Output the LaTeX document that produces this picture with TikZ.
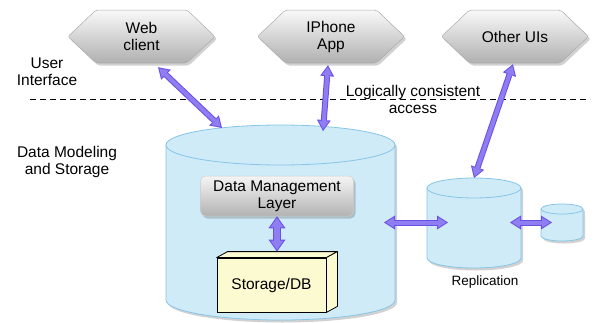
\documentclass[tikz,border=0pt]{standalone}
\usepackage{fontspec}
\setmainfont{Liberation Sans}
\usetikzlibrary{arrows.meta,shadows,calc}
\definecolor{cylfill}{HTML}{CFEBF8}
\definecolor{cylline}{HTML}{86C5E8}
\definecolor{arrdark}{HTML}{6A4FE6}
\definecolor{arrlight}{HTML}{8F7DF2}
\definecolor{dbfill}{HTML}{FCFAD0}
\tikzset{
  txt/.style={font=\fontsize{15.5}{17}\selectfont, align=center, inner sep=0pt},
  hexnode/.style={txt, minimum width=147pt, minimum height=53pt},
  softshadow/.style={drop shadow={shadow xshift=2pt, shadow yshift=-2.5pt, fill=black, opacity=0.18}},
  hexshape/.style={top color=gray!5, bottom color=gray!62, draw=gray!65, line width=0.5pt, rounded corners=2pt, softshadow},
  cylbody/.style={fill=cylfill, draw=cylline, line width=0.8pt},
  anchorbox/.style={inner sep=0pt, outer sep=0pt, minimum width=#1},
  dmlbox/.style={txt, minimum width=153pt, minimum height=40pt, rounded corners=5pt, top color=gray!8, bottom color=gray!60, draw=gray!40, line width=0.5pt, softshadow},
  dbbox/.style={txt, minimum width=109pt, minimum height=54pt, fill=dbfill, draw=black, line width=0.8pt},
  dbface/.style={fill=dbfill, draw=black, line width=0.8pt, line join=round},
  sep/.style={draw=black, line width=0.9pt, dash pattern=on 6pt off 4pt},
  fatout/.style={draw=arrdark, line width=6pt, {Triangle[width=14pt,length=11pt,line width=0pt]}-{Triangle[width=14pt,length=11pt,line width=0pt]}},
  fatin/.style={draw=arrlight, line width=4pt, shorten <=1.86pt, shorten >=1.86pt, {Triangle[width=10.4pt,length=8.14pt,line width=0pt]}-{Triangle[width=10.4pt,length=8.14pt,line width=0pt]}},
  bigout/.style={draw=arrdark, line width=8pt, {Triangle[width=17pt,length=12pt,line width=0pt]}-{Triangle[width=17pt,length=12pt,line width=0pt]}},
  bigin/.style={draw=arrlight, line width=6pt, shorten <=1.72pt, shorten >=1.72pt, {Triangle[width=13.1pt,length=9.3pt,line width=0pt]}-{Triangle[width=13.1pt,length=9.3pt,line width=0pt]}},
}
\newcommand\fatarr[2]{\draw[fatout] #1 -- #2; \draw[fatin] #1 -- #2;}
\newcommand\bigarr[2]{\draw[bigout] #1 -- #2; \draw[bigin] #1 -- #2;}
% hexagon outline centred at (#1,#2)
\newcommand\hexpath[2]{%
  \path[hexshape] ({#1-73.5},#2) -- ({#1-45.5},{#2-26.5}) -- ({#1+45.5},{#2-26.5})
    -- ({#1+73.5},#2) -- ({#1+45.5},{#2+26.5}) -- ({#1-45.5},{#2+26.5}) -- cycle;}
% cylinder: cx, rx, ytop, ybottom, ry
\newcommand\cylshape[5]{%
  \path[cylbody, softshadow] ({#1-#2},#3) -- ({#1-#2},#4)
    arc[start angle=180, end angle=360, x radius=#2pt, y radius=#5pt]
    -- ({#1+#2},#3)
    arc[start angle=0, end angle=180, x radius=#2pt, y radius=#5pt] -- cycle;
  \draw[draw=cylline, line width=0.8pt] ({#1-#2},#3)
    arc[start angle=180, end angle=360, x radius=#2pt, y radius=#5pt];}
\begin{document}
\begin{tikzpicture}[x=1pt,y=-1pt]
\useasboundingbox (0,0) rectangle (598,322);

% shapes
\hexpath{141.5}{36.5}
\hexpath{331}{36.5}
\hexpath{515}{36.5}
\cylshape{280.5}{114.5}{145}{300}{20}
\cylshape{474}{47}{188}{258}{10}
\cylshape{562}{21}{209}{236}{5}

% user-interface nodes
\node[hexnode] (web) at (141.5,36.5) {Web\\client};
\node[hexnode] (iphone) at (331,36.5) {IPhone\\App};
\node[hexnode] (other) at (515,36.5) {Other UIs};

% invisible anchors for the cylinders
\node[anchorbox=229pt, minimum height=195pt] (bigcyl) at (280.5,222.5) {};
\node[anchorbox=94pt, minimum height=89pt] (repl) at (474,222.5) {};
\node[anchorbox=42pt, minimum height=37pt] (tiny) at (562,222.5) {};

% layer labels
\node[txt] (ui) at (47,71.5) {User\\Interface};
\node[txt] (dms) at (67,161.5) {Data Modeling\\and Storage};
\node[txt] (lca) at (413,99.5) {Logically consistent\\access};
\node[txt, font=\fontsize{13.5}{15}\selectfont] (repllabel) at (485,282) {Replication};

% separator
\coordinate (sepL) at (30,99);
\coordinate (sepR) at (590,99);
\draw[sep] (sepL) -- (sepR);

% data management layer and storage
\node[dmlbox] (dml) at (277,196) {Data Management\\Layer};
\node[dbbox] (db) at (271.5,285) {Storage/DB};
\path[dbface] (db.north west) -- ++(11,-6) -- ([xshift=11pt,yshift=6pt]db.north east) -- (db.north east) -- cycle;
\path[dbface] (db.north east) -- ++(11,-6) -- ([xshift=11pt,yshift=6pt]db.south east) -- (db.south east) -- cycle;

% connectors
\fatarr{([xshift=16.5pt,yshift=-4pt]web.south)}{([xshift=-58.5pt,yshift=-3pt]bigcyl.north)}
\fatarr{([xshift=-3pt,yshift=-2pt]iphone.south)}{([xshift=42.5pt,yshift=-6pt]bigcyl.north)}
\fatarr{([xshift=-2pt,yshift=-1pt]other.south)}{(repl.north)}
\bigarr{(dml.south)}{([xshift=5.5pt,yshift=6pt]db.north)}
\fatarr{([xshift=-11pt]bigcyl.east)}{([xshift=21pt]repl.west)}
\fatarr{([xshift=-11pt]repl.east)}{([xshift=11pt]tiny.west)}
\end{tikzpicture}
\end{document}
